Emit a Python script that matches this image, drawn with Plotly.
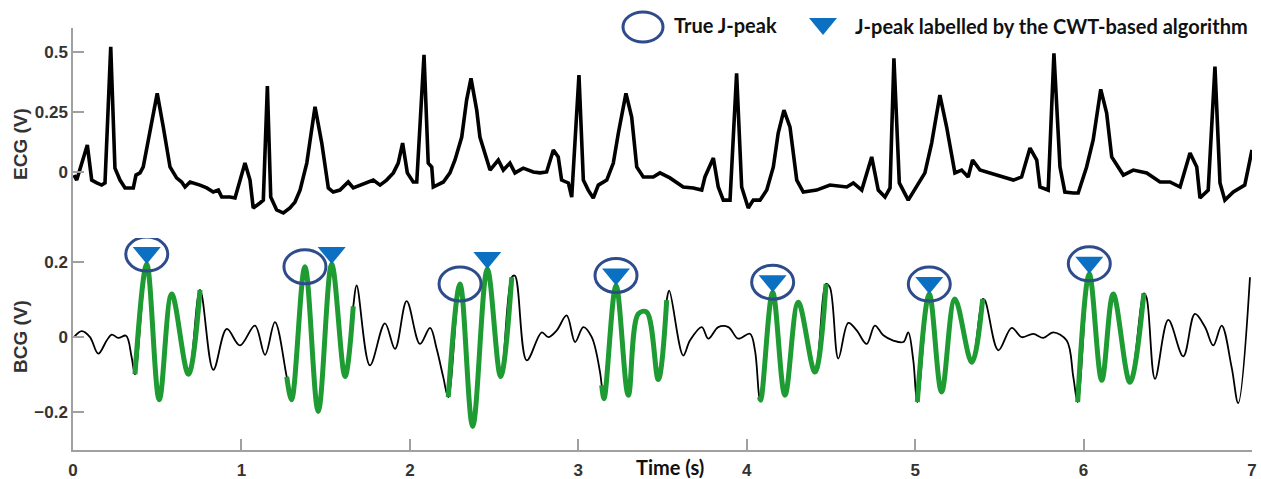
import numpy as np
import plotly.graph_objects as go

# ---- ECG trace (time in s, amplitude in V) ----
ecg_t = [0.006, 0.022, 0.085, 0.111, 0.141, 0.170, 0.190, 0.224, 0.249, 0.279, 0.309, 0.358, 0.374, 0.398,
         0.417, 0.457, 0.500, 0.536, 0.576, 0.615, 0.645, 0.665, 0.695, 0.754, 0.794, 0.833, 0.863, 0.883,
         0.932, 0.962, 0.981, 1.021, 1.051, 1.070, 1.110, 1.130, 1.154, 1.174, 1.209, 1.249, 1.288, 1.318,
         1.348, 1.388, 1.437, 1.477, 1.516, 1.545, 1.585, 1.634, 1.664, 1.704, 1.744, 1.783, 1.823, 1.862,
         1.902, 1.931, 1.957, 1.985, 2.020, 2.041, 2.084, 2.109, 2.130, 2.139, 2.199, 2.238, 2.268, 2.308,
         2.337, 2.363, 2.397, 2.416, 2.476, 2.525, 2.555, 2.594, 2.624, 2.673, 2.733, 2.773, 2.812, 2.852,
         2.881, 2.901, 2.941, 2.961, 3.004, 3.030, 3.059, 3.089, 3.119, 3.169, 3.208, 3.238, 3.283, 3.317,
         3.347, 3.386, 3.445, 3.485, 3.544, 3.623, 3.683, 3.733, 3.752, 3.802, 3.831, 3.861, 3.901, 3.940,
         3.970, 4.009, 4.039, 4.079, 4.119, 4.158, 4.187, 4.221, 4.257, 4.297, 4.336, 4.415, 4.494, 4.594,
         4.633, 4.683, 4.742, 4.781, 4.821, 4.851, 4.874, 4.906, 4.959, 5.009, 5.058, 5.098, 5.147, 5.187,
         5.236, 5.276, 5.315, 5.341, 5.385, 5.444, 5.523, 5.583, 5.632, 5.682, 5.722, 5.741, 5.790, 5.824,
         5.860, 5.889, 5.939, 5.968, 6.018, 6.057, 6.102, 6.137, 6.167, 6.236, 6.295, 6.375, 6.454, 6.513,
         6.573, 6.632, 6.672, 6.691, 6.740, 6.780, 6.810, 6.839, 6.889, 6.957, 6.978, 7.000]
ecg_v = [-0.014, -0.035, 0.112, -0.035, -0.047, -0.056, -0.047, 0.523, 0.015, -0.035, -0.068, -0.068, -0.014, -0.005,
         0.020, 0.162, 0.328, 0.187, 0.020, -0.026, -0.043, -0.064, -0.043, -0.056, -0.068, -0.085, -0.077, -0.106,
         -0.106, -0.110, -0.064, 0.036, -0.035, -0.152, -0.131, -0.119, 0.359, -0.106, -0.160, -0.173, -0.152, -0.127,
         -0.077, 0.036, 0.272, 0.120, -0.068, -0.085, -0.077, -0.043, -0.068, -0.056, -0.047, -0.035, -0.056, -0.035,
         -0.005, 0.036, 0.120, -0.005, -0.043, -0.043, 0.489, 0.036, 0.020, -0.064, -0.043, -0.005, 0.049, 0.145,
         0.300, 0.391, 0.258, 0.145, 0.007, 0.049, 0.007, 0.036, -0.005, 0.015, -0.001, -0.005, -0.001, 0.091,
         0.062, -0.035, -0.047, -0.106, 0.405, -0.035, -0.077, -0.110, -0.056, -0.035, 0.036, 0.162, 0.328, 0.229,
         0.020, -0.022, -0.022, -0.005, -0.026, -0.064, -0.068, -0.077, -0.022, 0.057, -0.064, -0.119, -0.119, 0.412,
         -0.064, -0.152, -0.119, -0.119, -0.077, 0.020, 0.162, 0.258, 0.187, -0.035, -0.085, -0.077, -0.056, -0.064,
         -0.047, -0.077, 0.062, -0.077, -0.106, -0.068, 0.475, -0.047, -0.119, -0.064, -0.005, 0.120, 0.321, 0.187,
         -0.005, 0.007, -0.022, 0.049, 0.007, -0.005, -0.022, -0.035, -0.022, 0.099, 0.049, -0.064, -0.077, 0.496,
         0.020, -0.085, -0.089, -0.089, 0.020, 0.133, 0.345, 0.246, 0.062, -0.014, 0.007, -0.005, -0.043, -0.043,
         -0.064, 0.078, 0.020, -0.110, -0.077, 0.440, -0.047, -0.119, -0.085, -0.056, 0.015, 0.091]

# ---- BCG trace (time in s, amplitude in V) ----
bcg_t = [0.006, 0.052, 0.101, 0.150, 0.200, 0.230, 0.269, 0.315, 0.348, 0.368, 0.438, 0.512, 0.586, 0.685,
         0.754, 0.833, 0.913, 0.991, 1.080, 1.140, 1.199, 1.269, 1.298, 1.377, 1.456, 1.536, 1.615, 1.664,
         1.684, 1.763, 1.852, 1.912, 1.981, 2.060, 2.120, 2.159, 2.198, 2.228, 2.298, 2.373, 2.460, 2.539,
         2.605, 2.624, 2.694, 2.783, 2.822, 2.872, 2.931, 2.981, 3.030, 3.080, 3.129, 3.139, 3.153, 3.224,
         3.297, 3.356, 3.406, 3.475, 3.525, 3.540, 3.623, 3.663, 3.733, 3.772, 3.831, 3.891, 3.950, 4.019,
         4.049, 4.075, 4.083, 4.154, 4.227, 4.306, 4.405, 4.471, 4.494, 4.544, 4.603, 4.653, 4.712, 4.761,
         4.811, 4.870, 4.930, 4.959, 4.989, 5.013, 5.084, 5.157, 5.236, 5.336, 5.401, 5.415, 5.494, 5.573,
         5.633, 5.701, 5.761, 5.820, 5.900, 5.939, 5.965, 6.034, 6.108, 6.176, 6.275, 6.358, 6.374, 6.424,
         6.503, 6.592, 6.661, 6.721, 6.770, 6.820, 6.879, 6.918, 6.988]
bcg_v = [0.000, 0.016, 0.000, -0.044, -0.009, 0.007, -0.002, 0.004, -0.053, -0.099, 0.195, -0.167, 0.115, -0.099,
         0.126, -0.087, 0.022, -0.022, 0.031, -0.047, 0.040, -0.106, -0.167, 0.188, -0.198, 0.195, -0.105, 0.082,
         0.138, -0.075, 0.037, -0.031, 0.096, -0.018, 0.025, -0.031, -0.106, -0.160, 0.142, -0.238, 0.182, -0.105,
         0.160, 0.164, -0.062, 0.013, 0.000, 0.018, 0.058, -0.013, 0.027, 0.000, -0.093, -0.128, -0.164, 0.138,
         -0.155, 0.062, 0.067, -0.113, 0.099, 0.124, -0.049, -0.009, 0.027, -0.004, 0.027, 0.027, -0.004, 0.009,
         -0.035, -0.160, -0.168, 0.120, -0.155, 0.093, -0.093, 0.142, 0.133, -0.057, 0.038, 0.018, -0.018, 0.031,
         0.005, -0.009, -0.013, 0.013, -0.062, -0.173, 0.115, -0.146, 0.102, -0.067, 0.102, 0.098, -0.035, 0.025,
         0.000, 0.009, -0.002, 0.013, -0.009, -0.106, -0.173, 0.169, -0.115, 0.115, -0.120, 0.117, 0.106, -0.111,
         0.046, -0.051, 0.062, 0.027, -0.022, 0.031, -0.080, -0.176, 0.160]

# heartbeat windows highlighted in green (start, end in s)
beat_start = [0.368, 1.269, 2.228, 3.139, 4.075, 5.013, 5.965]
beat_end = [0.754, 1.664, 2.605, 3.525, 4.471, 5.401, 6.358]

# J-peak times: reference annotation vs. CWT-based detection
true_j_t = [0.438, 1.377, 2.298, 3.224, 4.154, 5.084, 6.034]
cwt_j_t = [0.438, 1.536, 2.460, 3.224, 4.154, 5.084, 6.034]

tick_x = [0, 1, 2, 3, 4, 5, 6, 7]
tick_ecg = [0, 0.25, 0.5]
tick_ecg_text = ["0", "0.25", "0.5"]
tick_bcg = [-0.2, 0, 0.2]
tick_bcg_text = ["\u22120.2", "0", "0.2"]

BLACK = "#000000"
GREEN = "#1E9B32"
NAVY = "#2E4B8B"
BLUE = "#0B6FC2"
AXIS = "#A0A0A0"
TXT = "#333333"

bt = np.array(bcg_t)
bv = np.array(bcg_v)

# green overlay: BCG samples inside each beat window, separated by gaps
gx, gy = [], []
for s, e in zip(beat_start, beat_end):
    m = (bt >= s - 1e-9) & (bt <= e + 1e-9)
    gx += list(bt[m]) + [None]
    gy += list(bv[m]) + [None]

fig = go.Figure()
fig.add_trace(go.Scatter(x=ecg_t, y=ecg_v, yaxis="y2", mode="lines",
                         line=dict(color=BLACK, width=3.6), showlegend=False))
fig.add_trace(go.Scatter(x=bcg_t, y=bcg_v, mode="lines",
                         line=dict(color=BLACK, width=1.8, shape="spline", smoothing=1.0),
                         showlegend=False))
fig.add_trace(go.Scatter(x=gx, y=gy, mode="lines",
                         line=dict(color=GREEN, width=5, shape="spline", smoothing=1.0),
                         connectgaps=False, showlegend=False))

shapes = []
cwt_set = set(cwt_j_t)
# circles around the true J-peaks
for t in true_j_t:
    v = float(np.interp(t, bt, bv))
    dy = 10 if t in cwt_set else 0
    shapes.append(dict(type="circle", xref="x", yref="y",
                       xsizemode="pixel", ysizemode="pixel",
                       xanchor=t, yanchor=v, x0=-21, x1=21, y0=dy - 17, y1=dy + 17,
                       line=dict(color=NAVY, width=3), fillcolor="rgba(0,0,0,0)"))
# downward triangles with the apex on the detected peak
for t in cwt_j_t:
    v = float(np.interp(t, bt, bv))
    shapes.append(dict(type="path", xref="x", yref="y",
                       xsizemode="pixel", ysizemode="pixel",
                       xanchor=t, yanchor=v,
                       path="M-14,17 L14,17 L0,0 Z",
                       line=dict(color=BLUE, width=0), fillcolor=BLUE))

# key: circle and triangle symbols in paper space
shapes.append(dict(type="circle", xref="paper", yref="paper",
                   xsizemode="pixel", ysizemode="pixel",
                   xanchor=(643 - 73) / 1179, yanchor=(450 - 27) / 422,
                   x0=-20, x1=20, y0=-15, y1=15,
                   line=dict(color=NAVY, width=3), fillcolor="rgba(0,0,0,0)"))
shapes.append(dict(type="path", xref="paper", yref="paper",
                   xsizemode="pixel", ysizemode="pixel",
                   xanchor=(823 - 73) / 1179, yanchor=(450 - 35) / 422,
                   path="M-14,17 L14,17 L0,0 Z",
                   line=dict(color=BLUE, width=0), fillcolor=BLUE))

LEG_FONT = dict(family="Lato, 'Open Sans', sans-serif", size=20, color="#111111", weight="bold")
TITLE_FONT = dict(family="Liberation Sans, Arial, sans-serif", size=19, color=TXT, weight="bold")
annotations = [
    dict(text="True J-peak", xref="paper", yref="paper", x=(672 - 73) / 1179, y=(450 - 25) / 422,
         xanchor="left", yanchor="middle", showarrow=False, font=LEG_FONT),
    dict(text="J-peak labelled by the CWT-based algorithm", xref="paper", yref="paper",
         x=(853 - 73) / 1179, y=(450 - 26) / 422,
         xanchor="left", yanchor="middle", showarrow=False, font=LEG_FONT),
    dict(text="Time (s)", xref="paper", yref="paper", x=(670 - 73) / 1179, y=(450 - 467) / 422,
         xanchor="center", yanchor="middle", showarrow=False, font=LEG_FONT),
    dict(text="ECG (V)", xref="paper", yref="paper", x=(20 - 73) / 1179, y=(450 - 144) / 422,
         textangle=-90, xanchor="center", yanchor="middle", showarrow=False, font=TITLE_FONT),
    dict(text="BCG (V)", xref="paper", yref="paper", x=(20 - 73) / 1179, y=(450 - 337) / 422,
         textangle=-90, xanchor="center", yanchor="middle", showarrow=False, font=TITLE_FONT),
]

TICK_FONT = dict(family="Liberation Sans, Arial, sans-serif", size=17, color=TXT, weight="bold")
split = (450 - 238) / 422
axis_common = dict(showgrid=False, zeroline=False, showline=True, linecolor=AXIS, linewidth=1.5,
                   ticks="inside", ticklen=11, tickcolor=AXIS, tickwidth=1.5,
                   tickfont=TICK_FONT, automargin=False)

fig.update_layout(
    width=1261, height=479,
    margin=dict(l=73, r=9, t=28, b=29),
    paper_bgcolor="white", plot_bgcolor="white",
    showlegend=False,
    shapes=shapes, annotations=annotations,
    xaxis=dict(range=[0, 7], tickvals=tick_x, ticktext=[str(v) for v in tick_x],
               anchor="y", ticklabelstandoff=4, **axis_common),
    yaxis=dict(domain=[0, split], range=[-0.301, 0.2646],
               tickvals=tick_bcg, ticktext=tick_bcg_text, anchor="x", **axis_common),
    yaxis2=dict(domain=[split, 1], range=[-0.2776, 0.6018],
                tickvals=tick_ecg, ticktext=tick_ecg_text, anchor="x", **axis_common),
)

fig.write_html("out.html")
